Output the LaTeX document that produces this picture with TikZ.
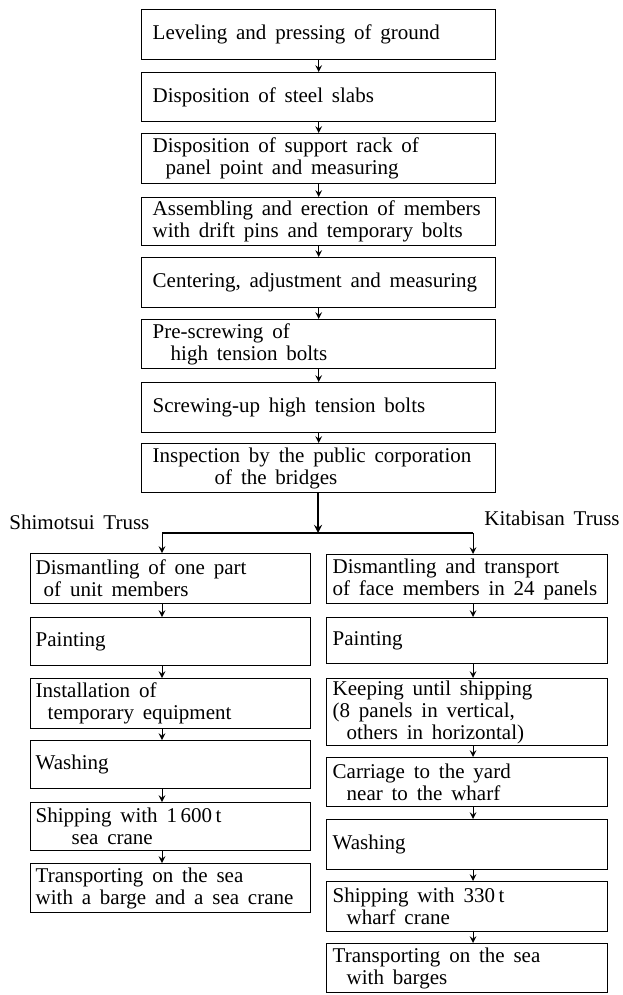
\documentclass[tikz,border=0pt]{standalone}
\usepackage{fontspec}
\setmainfont{Liberation Serif}
\usetikzlibrary{arrows,calc,positioning}
\newcommand{\stepfont}{\fontsize{10.5}{11}\selectfont\fontdimen2\font=0.42em}
\tikzstyle{stepbox} = [draw, line width=0.7pt, anchor=north west, align=left, minimum height=25pt, inner ysep=1pt, font=\stepfont, execute at begin node={\spaceskip=0.42em plus 0.05em\relax}]
\tikzstyle{mainbox} = [stepbox, text width=166pt, inner xsep=5.5pt]
\tikzstyle{leftbox} = [stepbox, text width=135pt, inner xsep=2.5pt]
\tikzstyle{rightbox} = [stepbox, text width=134.5pt, inner xsep=3pt]
\tikzstyle{flow} = [->,>=stealth, line width=0.5pt]
\tikzstyle{truss} = [inner sep=0pt, font=\stepfont]

\begin{document}
\begin{tikzpicture}[x=0.5pt,y=-0.5pt]
\useasboundingbox (0,0) rectangle (622,995);
% common steps
\node (t1) [mainbox] at (141,9) {Leveling and pressing of ground};
\node (t2) [mainbox, minimum height=24.5pt] at (141,72) {Disposition of steel slabs};
\node (t3) [mainbox] at (141,133) {Disposition of support rack of\\\hspace*{6.5pt}panel point and measuring};
\node (t4) [mainbox, minimum height=24pt] at (141,197) {Assembling and erection of members\\with drift pins and temporary bolts};
\node (t5) [mainbox] at (141,257) {Centering, adjustment and measuring};
\node (t6) [mainbox, minimum height=24.5pt] at (141,319) {Pre-screwing of\\\hspace*{9pt}high tension bolts};
\node (t7) [mainbox] at (141,382) {Screwing-up high tension bolts};
\node (t8) [mainbox, minimum height=24.5pt] at (141,443) {Inspection by the public corporation\\\hspace*{31pt}of the bridges};
\draw[flow] (t1) -- (t2);
\draw[flow] (t2) -- (t3);
\draw[flow] (t3) -- (t4);
\draw[flow] (t4) -- (t5);
\draw[flow] (t5) -- (t6);
\draw[flow] (t6) -- (t7);
\draw[flow] (t7) -- (t8);
% branch
\node (shimo) [truss, anchor=west] at (9,522) {Shimotsui Truss};
\node (kita) [truss, anchor=east] at (620,518) {Kitabisan Truss};
\coordinate (split) at (318,533);
\coordinate (lsplit) at (162,533);
\coordinate (rsplit) at (473,533);
\draw[flow, line width=0.8pt] (t8.south -| split) -- (split);
\draw[line width=0.7pt] (lsplit) -- (rsplit);
% Shimotsui
\node (l1) [leftbox] at (30,553) {Dismantling of one part\\\hspace*{4pt}of unit members};
\node (l2) [leftbox, minimum height=24pt] at (30,617) {Painting};
\node (l3) [leftbox] at (30,678) {Installation of\\\hspace*{6pt}temporary equipment};
\node (l4) [leftbox, minimum height=24pt] at (30,740) {Washing};
\node (l5) [leftbox, minimum height=24pt] at (30,802) {Shipping with 1\,600\,t\\\hspace*{18pt}sea crane};
\node (l6) [leftbox, minimum height=24.5pt] at (30,863) {Transporting on the sea\\with a barge and a sea crane};
\draw[flow] (lsplit) -- (l1.north -| lsplit);
\draw[flow] (l1.south -| lsplit) -- (l2.north -| lsplit);
\draw[flow] (l2.south -| lsplit) -- (l3.north -| lsplit);
\draw[flow] (l3.south -| lsplit) -- (l4.north -| lsplit);
\draw[flow] (l4.south -| lsplit) -- (l5.north -| lsplit);
\draw[flow] (l5.south -| lsplit) -- (l6.north -| lsplit);
% Kitabisan
\node (r1) [rightbox, minimum height=24.5pt] at (326,554) {Dismantling and transport\\of face members in 24 panels};
\node (r2) [rightbox, minimum height=23pt] at (326,617) {Painting};
\node (r3) [rightbox, minimum height=33.5pt] at (326,678) {Keeping until shipping\\(8 panels in vertical,\\\hspace*{7pt}others in horizontal)};
\node (r4) [rightbox, minimum height=24.5pt] at (326,757) {Carriage to the yard\\\hspace*{7pt}near to the wharf};
\node (r5) [rightbox] at (326,819) {Washing};
\node (r6) [rightbox] at (326,881) {Shipping with 330\,t\\\hspace*{7pt}wharf crane};
\node (r7) [rightbox, minimum height=24.5pt] at (326,943) {Transporting on the sea\\\hspace*{7pt}with barges};
\draw[flow] (rsplit) -- (r1.north -| rsplit);
\draw[flow] (r1.south -| rsplit) -- (r2.north -| rsplit);
\draw[flow] (r2.south -| rsplit) -- (r3.north -| rsplit);
\draw[flow] (r3.south -| rsplit) -- (r4.north -| rsplit);
\draw[flow] (r4.south -| rsplit) -- (r5.north -| rsplit);
\draw[flow] (r5.south -| rsplit) -- (r6.north -| rsplit);
\draw[flow] (r6.south -| rsplit) -- (r7.north -| rsplit);
\end{tikzpicture}
\end{document}
